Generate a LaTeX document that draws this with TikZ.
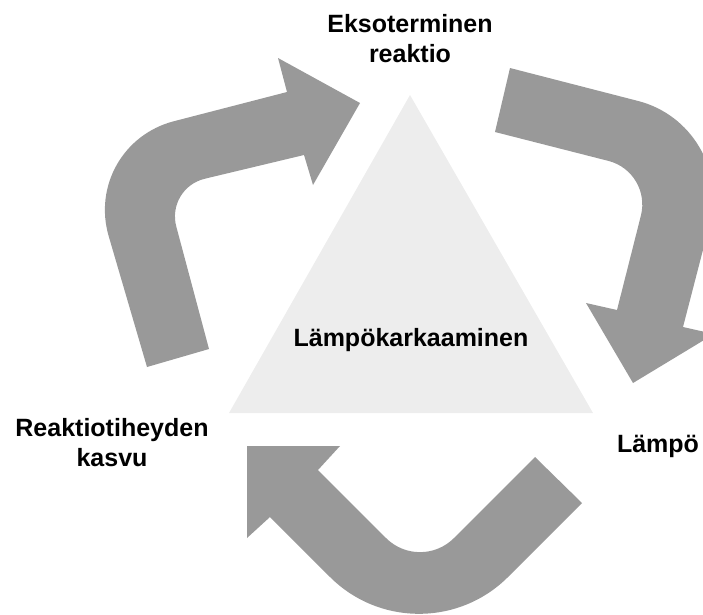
\documentclass[tikz,border=0pt]{standalone}
\usepackage{fontspec}
\setmainfont{Liberation Sans}
\usetikzlibrary{calc}
\definecolor{arrowgray}{HTML}{999999}
\definecolor{trifill}{HTML}{EDEDED}
\tikzset{
  blockarrow/.style={fill=arrowgray, draw=none},
  lbl/.style={font=\fontsize{25}{30}\selectfont\bfseries, align=center, inner sep=0pt, text=black},
}
\begin{document}
\begin{tikzpicture}[x=1pt,y=-1pt]
\path[use as bounding box] (0,0) rectangle (703,614);
\clip (0,0) rectangle (703,614);
% central triangle
\fill[trifill] (410,95) -- (229,413) -- (593,413) -- cycle;
% arrow 1 (left, up to the top)
\fill[blockarrow] (147,367) -- (108.7,236.2) .. controls (94.0,185.9) and (123.2,134.3) .. (174,121.2)
  -- (287,92) -- (278,58) -- (360,103) -- (313,185) -- (304,155)
  -- (204.9,178.7) .. controls (183.4,183.8) and (170.6,205.3) .. (176.3,226.6)
  -- (209,349) -- cycle;
% arrow 2 (right, down)
\fill[blockarrow] (510,68) -- (638.2,101) .. controls (691.6,114.8) and (723.8,169.4) .. (710,222.8)
  -- (683,327) -- (714,334) -- (633,383) -- (586,303) -- (617,310)
  -- (640.9,215.6) .. controls (647.0,191.5) and (632.5,167.0) .. (608.4,160.9)
  -- (495,132) -- cycle;
% arrow 3 (bottom, to the left)
\fill[blockarrow] (247,446) -- (340,446) -- (318,470)
  -- (386.1,538.1) .. controls (404.8,556.8) and (435.2,556.8) .. (453.9,538.1)
  -- (535,457) -- (582,503)
  -- (508.1,576.9) .. controls (458.9,626.1) and (379.1,626.1) .. (329.9,576.9)
  -- (270,517) -- (247,538) -- cycle;
% labels
\node[lbl] (exo) at (410,39) {Eksoterminen\\reaktio};
\node[lbl] (heat) at (658,446.5) {Lämpö};
\node[lbl] (rate) at (112,443) {Reaktiotiheyden\\kasvu};
\node[lbl] (runaway) at (411,340) {Lämpökarkaaminen};
\end{tikzpicture}
\end{document}
